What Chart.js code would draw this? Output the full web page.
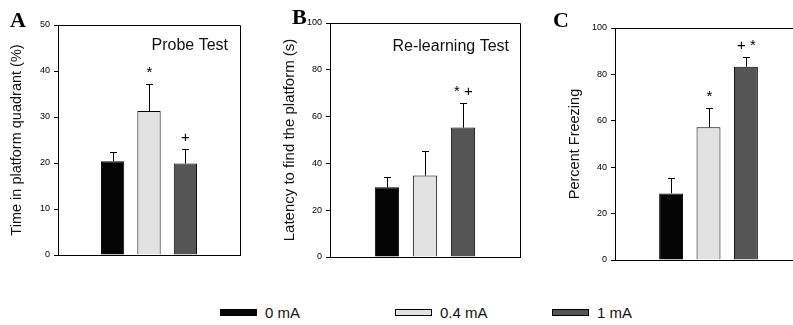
<!DOCTYPE html>
<html><head><meta charset="utf-8">
<script src="https://cdn.jsdelivr.net/npm/chart.js@4.4.0/dist/chart.umd.min.js"></script>
<style>
html,body{margin:0;padding:0;background:#fff;overflow:hidden;width:793px;height:325px;}
#wrap{position:relative;width:793px;height:325px;overflow:hidden;background:#fff;}
canvas{position:absolute;top:0;}
.letter{position:absolute;font-family:"Liberation Serif","DejaVu Serif",serif;font-weight:bold;font-size:22px;line-height:1;color:#000;}
.leg{position:absolute;top:304px;height:16px;font-family:"Liberation Sans",Arial,sans-serif;font-size:15px;display:flex;align-items:center;color:#111;}
.sw{width:35px;height:5px;border:1px solid #000;margin-right:8px;}
</style></head>
<body><div id="wrap">
<canvas id="cA" width="262" height="275" style="left:0px"></canvas>
<canvas id="cB" width="264" height="275" style="left:258px"></canvas>
<canvas id="cC" width="290" height="275" style="left:520px"></canvas>
<div class="letter" style="left:10px;top:9px">A</div>
<div class="letter" style="left:292px;top:6px">B</div>
<div class="letter" style="left:553px;top:9px">C</div>
<div class="leg" style="left:220px"><div class="sw" style="background:#050505"></div>0 mA</div>
<div class="leg" style="left:395px"><div class="sw" style="background:#e2e2e2"></div>0.4 mA</div>
<div class="leg" style="left:552px"><div class="sw" style="background:#555555"></div>1 mA</div>
</div>
<script>
// ---- data ----
const groups = ['0 mA', '0.4 mA', '1 mA'];
const probeMeans = [20.4, 31.3, 19.9];
const probeSEM = [2.1, 5.9, 3.1];
const relearnMeans = [29.8, 34.8, 55.3];
const relearnSEM = [4.5, 10.5, 10.4];
const freezeMeans = [28.7, 57.2, 83.3];
const freezeSEM = [6.8, 8.4, 4.1];
const probeMarks = ['', '*', '+'];
const relearnMarks = ['', '', '* +'];
const freezeMarks = ['', '*', '+ *'];
const probeTicks = [0, 10, 20, 30, 40, 50];
const relearnTicks = [0, 20, 40, 60, 80, 100];
const freezeTicks = [0, 20, 40, 60, 80, 100];

// ---- styles ----
const FONT = '"Liberation Sans", Arial, sans-serif';
const barColors = ['#050505', '#e2e2e2', '#555555'];

const decor = {
  id: 'decor',
  afterDatasetsDraw(chart, args, o) {
    const {ctx, chartArea: a, scales: {y}} = chart;
    const meta = chart.getDatasetMeta(0);
    ctx.save();
    ctx.strokeStyle = '#000';
    ctx.lineWidth = 1;
    ctx.beginPath();
    ctx.moveTo(a.left, Math.round(a.top) + 0.5);
    ctx.lineTo(Math.round(a.right) + 0.5, Math.round(a.top) + 0.5);
    ctx.lineTo(Math.round(a.right) + 0.5, a.bottom);
    ctx.stroke();
    ctx.fillStyle = '#000';
    o.means.forEach((m, i) => {
      const bar = meta.data[i + 1];
      const x = Math.round(bar.x) + 0.5;
      const y0 = y.getPixelForValue(m);
      const y1 = Math.round(y.getPixelForValue(m + o.sem[i])) + 0.5;
      ctx.beginPath();
      ctx.moveTo(x, y0);
      ctx.lineTo(x, y1);
      ctx.moveTo(x - 3.5, y1);
      ctx.lineTo(x + 3.5, y1);
      ctx.stroke();
      if (o.marks[i]) {
        ctx.font = '15px ' + FONT;
        ctx.textAlign = 'center';
        ctx.textBaseline = 'middle';
        ctx.fillText(o.marks[i], x, y1 - 12);
      }
    });
    if (o.note) {
      ctx.font = '16px ' + FONT;
      ctx.fillStyle = '#111';
      ctx.textAlign = 'right';
      ctx.textBaseline = 'middle';
      ctx.fillText(o.note, a.right - o.noteDx, a.top + o.noteDy);
    }
    ctx.restore();
  }
};

function makeChart(id, o) {
  return new Chart(document.getElementById(id), {
    type: 'bar',
    data: {
      labels: ['', ...groups, ''],
      datasets: [{
        data: [null, ...o.means, null],
        backgroundColor: ['#fff', ...barColors, '#fff'],
        borderColor: '#000',
        borderWidth: 1,
        barPercentage: 0.64,
        categoryPercentage: 1
      }]
    },
    options: {
      responsive: false,
      animation: false,
      events: [],
      devicePixelRatio: 1,
      layout: {padding: {top: o.padTop, right: o.padRight, bottom: o.padBottom, left: 0}},
      plugins: {legend: {display: false}, tooltip: {enabled: false}, decor: o},
      scales: {
        x: {
          type: 'category',
          ticks: {display: false},
          grid: {display: false, drawTicks: false},
          border: {display: true, color: '#000', width: 1},
          afterFit: s => { s.height = 0; }
        },
        y: {
          min: 0, max: o.ticks[o.ticks.length - 1],
          afterBuildTicks: s => { s.ticks = o.ticks.map(v => ({value: v})); },
          afterFit: s => { s.width = o.yWidth; },
          ticks: {color: '#000', font: {size: 9, family: FONT}, padding: 4},
          grid: {display: true, drawOnChartArea: false, drawTicks: true, tickLength: 4, color: '#000'},
          border: {display: true, color: '#000', width: 1},
          title: {display: true, text: o.title, color: '#111', font: {size: o.titleSize, family: FONT}, padding: {top: o.titlePad, bottom: 0}}
        }
      }
    },
    plugins: [decor]
  });
}

makeChart('cA', {means: probeMeans, sem: probeSEM, marks: probeMarks, ticks: probeTicks,
  title: 'Time in platform quadrant (%)', titleSize: 14.5, yWidth: 58, titlePad: 8,
  padTop: 25, padRight: 22, padBottom: 20, note: 'Probe Test', noteDx: 12, noteDy: 21});
makeChart('cB', {means: relearnMeans, sem: relearnSEM, marks: relearnMarks, ticks: relearnTicks,
  title: 'Latency to find the platform (s)', titleSize: 15, yWidth: 72, titlePad: 23,
  padTop: 23, padRight: 2, padBottom: 18, note: 'Re-learning Test', noteDx: 11, noteDy: 24});
makeChart('cC', {means: freezeMeans, sem: freezeSEM, marks: freezeMarks, ticks: freezeTicks,
  title: 'Percent Freezing', titleSize: 14.5, yWidth: 95, titlePad: 46,
  padTop: 28, padRight: 8, padBottom: 15, note: '', noteDx: 0, noteDy: 0});
</script>
</body></html>
